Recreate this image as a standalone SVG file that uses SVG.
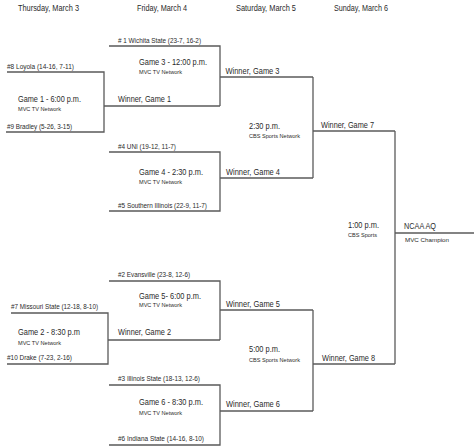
<svg xmlns="http://www.w3.org/2000/svg" width="474" height="447" viewBox="0 0 474 447">
<style>
text{font-family:"Liberation Sans",Arial,sans-serif;fill:#2a2a2a}
.hdr{font-size:9.5px}
.team{font-size:7px}
.game{font-size:8.6px}
.net{font-size:6.2px}
.win{font-size:8.2px}
#connectors path{fill:none;stroke:#5a5a5a;stroke-width:1.3}
</style>
<rect width="474" height="447" fill="#fff"/>
<g id="headers">
<text class="hdr" x="18" y="10.5" textLength="61" lengthAdjust="spacingAndGlyphs">Thursday, March 3</text>
<text class="hdr" x="137" y="10.5" textLength="50" lengthAdjust="spacingAndGlyphs">Friday, March 4</text>
<text class="hdr" x="236" y="10.5" textLength="60" lengthAdjust="spacingAndGlyphs">Saturday, March 5</text>
<text class="hdr" x="334" y="10.5" textLength="54" lengthAdjust="spacingAndGlyphs">Sunday, March 6</text>
</g>
<g id="connectors">
<path d="M7,72 H104 V132 H6"/>
<path d="M104,106 H220"/>
<path d="M109,46 H220 V106"/>
<path d="M220,77 H313"/>
<path d="M109,152 H220 V211 H109"/>
<path d="M220,178 H313"/>
<path d="M313,77 V178"/>
<path d="M313,131 H395"/>
<path d="M395,131 V364"/>
<path d="M395,233 H474"/>
<path d="M313,364 H395"/>
<path d="M109,281 H220 V340"/>
<path d="M11,313 H108 V364 H7"/>
<path d="M108,340 H220"/>
<path d="M220,310 H313"/>
<path d="M313,310 V411"/>
<path d="M220,411 H313"/>
<path d="M109,385 H220 V445 H109"/>
</g>
<g id="team-wichita"><text class="team" x="118" y="43" textLength="83" lengthAdjust="spacingAndGlyphs"># 1 Wichita State (23-7, 16-2)</text></g>
<g id="team-loyola"><text class="team" x="7" y="69" textLength="67" lengthAdjust="spacingAndGlyphs">#8 Loyola (14-16, 7-11)</text></g>
<g id="team-bradley"><text class="team" x="7" y="128.5" textLength="65" lengthAdjust="spacingAndGlyphs">#9 Bradley (5-26, 3-15)</text></g>
<g id="team-uni"><text class="team" x="118" y="148.5" textLength="58" lengthAdjust="spacingAndGlyphs">#4 UNI (19-12, 11-7)</text></g>
<g id="team-siu"><text class="team" x="118" y="207.5" textLength="89" lengthAdjust="spacingAndGlyphs">#5 Southern Illinois (22-9, 11-7)</text></g>
<g id="team-evansville"><text class="team" x="118" y="276.5" textLength="72" lengthAdjust="spacingAndGlyphs">#2 Evansville (23-8, 12-6)</text></g>
<g id="team-missouri"><text class="team" x="11" y="309" textLength="87" lengthAdjust="spacingAndGlyphs">#7 Missouri State (12-18, 8-10)</text></g>
<g id="team-drake"><text class="team" x="7" y="359.5" textLength="65" lengthAdjust="spacingAndGlyphs">#10 Drake (7-23, 2-16)</text></g>
<g id="team-illinoisst"><text class="team" x="118" y="380.5" textLength="82" lengthAdjust="spacingAndGlyphs">#3 Illinois State (18-13, 12-6)</text></g>
<g id="team-indianast"><text class="team" x="118" y="440.5" textLength="86" lengthAdjust="spacingAndGlyphs">#6 Indiana State (14-16, 8-10)</text></g>
<g id="game1">
<text class="game" x="18" y="102" textLength="63" lengthAdjust="spacingAndGlyphs">Game 1 - 6:00 p.m.</text>
<text class="net" x="18" y="110.5" textLength="43" lengthAdjust="spacingAndGlyphs">MVC TV Network</text>
</g>
<g id="game2">
<text class="game" x="18" y="334.5" textLength="62" lengthAdjust="spacingAndGlyphs">Game 2 - 8:30 p.m</text>
<text class="net" x="18" y="345" textLength="43" lengthAdjust="spacingAndGlyphs">MVC TV Network</text>
</g>
<g id="game3">
<text class="game" x="139" y="65" textLength="68" lengthAdjust="spacingAndGlyphs">Game 3 - 12:00 p.m.</text>
<text class="net" x="139" y="74" textLength="43" lengthAdjust="spacingAndGlyphs">MVC TV Network</text>
</g>
<g id="game4">
<text class="game" x="139" y="175" textLength="64" lengthAdjust="spacingAndGlyphs">Game 4 - 2:30 p.m.</text>
<text class="net" x="139" y="183.5" textLength="43" lengthAdjust="spacingAndGlyphs">MVC TV Network</text>
</g>
<g id="game5">
<text class="game" x="139" y="298.5" textLength="62" lengthAdjust="spacingAndGlyphs">Game 5- 6:00 p.m.</text>
<text class="net" x="139" y="307" textLength="43" lengthAdjust="spacingAndGlyphs">MVC TV Network</text>
</g>
<g id="game6">
<text class="game" x="139" y="405" textLength="64" lengthAdjust="spacingAndGlyphs">Game 6 - 8:30 p.m.</text>
<text class="net" x="139" y="415" textLength="43" lengthAdjust="spacingAndGlyphs">MVC TV Network</text>
</g>
<g id="winner-g1"><text class="win" x="118" y="102" textLength="53" lengthAdjust="spacingAndGlyphs">Winner, Game 1</text></g>
<g id="winner-g2"><text class="win" x="118" y="335" textLength="53" lengthAdjust="spacingAndGlyphs">Winner, Game 2</text></g>
<g id="winner-g3"><text class="win" x="225.5" y="74" textLength="54" lengthAdjust="spacingAndGlyphs">Winner, Game 3</text></g>
<g id="winner-g4"><text class="win" x="226" y="175" textLength="54" lengthAdjust="spacingAndGlyphs">Winner, Game 4</text></g>
<g id="winner-g5"><text class="win" x="226" y="307" textLength="54" lengthAdjust="spacingAndGlyphs">Winner, Game 5</text></g>
<g id="winner-g6"><text class="win" x="226" y="406.5" textLength="54" lengthAdjust="spacingAndGlyphs">Winner, Game 6</text></g>
<g id="game7">
<text class="game" x="249" y="128.5" textLength="31" lengthAdjust="spacingAndGlyphs">2:30 p.m.</text>
<text class="net" x="249" y="137.5" textLength="51" lengthAdjust="spacingAndGlyphs">CBS Sports Network</text>
</g>
<g id="game8">
<text class="game" x="249" y="351.5" textLength="31" lengthAdjust="spacingAndGlyphs">5:00 p.m.</text>
<text class="net" x="249" y="362" textLength="51" lengthAdjust="spacingAndGlyphs">CBS Sports Network</text>
</g>
<g id="winner-g7"><text class="win" x="321" y="128" textLength="53" lengthAdjust="spacingAndGlyphs">Winner, Game 7</text></g>
<g id="winner-g8"><text class="win" x="322" y="361" textLength="53" lengthAdjust="spacingAndGlyphs">Winner, Game 8</text></g>
<g id="final">
<text class="game" x="348" y="228" textLength="31" lengthAdjust="spacingAndGlyphs">1:00 p.m.</text>
<text class="net" x="348" y="237" textLength="29" lengthAdjust="spacingAndGlyphs">CBS Sports</text>
</g>
<g id="champion">
<text class="game" x="404" y="228.5" textLength="32" lengthAdjust="spacingAndGlyphs">NCAA AQ</text>
<text class="net" x="405" y="242" textLength="44" lengthAdjust="spacingAndGlyphs">MVC Champion</text>
</g>
</svg>
